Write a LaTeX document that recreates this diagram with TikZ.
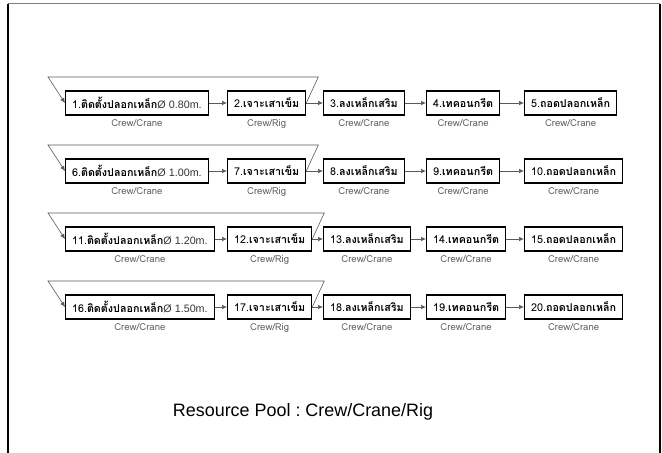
\documentclass[tikz,border=0pt]{standalone}
\usepackage{fontspec}
\setmainfont{Liberation Sans}
\newfontfamily\thaifont[Script=Thai]{Loma}
\usetikzlibrary{arrows.meta,positioning}
\definecolor{linegray}{RGB}{90,90,90}
\definecolor{resgray}{RGB}{95,95,95}
\newcommand{\dia}[1]{{\rmfamily\color{black!80}Ø #1m.}}
\frenchspacing

\begin{document}
\begin{tikzpicture}[
    x=1bp, y=-1bp,
    >=Latex,
    taskbox/.style={
        rectangle,
        draw=black,
        line width=1.1bp,
        anchor=west,
        minimum height=24bp,
        inner xsep=6.5bp,
        font=\thaifont\fontsize{10.8}{12}\selectfont
    },
    res/.style={
        text=resgray,
        inner sep=1bp,
        below=2.5bp of #1,
        font=\thaifont\fontsize{9.6}{11}\selectfont
    },
    seqarrow/.style={
        -{Latex[length=5bp,width=4.5bp]},
        draw=linegray,
        line width=0.7bp
    },
    cycleline/.style={
        -{Latex[length=5bp,width=4.5bp]},
        draw=linegray,
        line width=0.6bp
    }
]
\useasboundingbox (0,0) rectangle (662,453);
% frame
\draw[gray, line width=1bp] (8,4) -- (660,4);
\draw[line width=2bp] (8,4) -- (8,453);
\draw[line width=2bp] (660,4) -- (660,453);

% row 1
\node[taskbox] (t1) at (65,103) {1.\textbf{ติดตั้งปลอกเหล็ก}\dia{0.80}};
\node[taskbox] (t2) at (227,103) {2.\textbf{เจาะเสาเข็ม}};
\node[taskbox] (t3) at (323,103) {3.\textbf{ลงเหล็กเสริม}};
\node[taskbox] (t4) at (426,103) {4.\textbf{เทคอนกรีต}};
\node[taskbox] (t5) at (524,103) {5.\textbf{ถอดปลอกเหล็ก}};
% row 2
\node[taskbox] (t6) at (65,171) {6.\textbf{ติดตั้งปลอกเหล็ก}\dia{1.00}};
\node[taskbox] (t7) at (227,171) {7.\textbf{เจาะเสาเข็ม}};
\node[taskbox] (t8) at (323,171) {8.\textbf{ลงเหล็กเสริม}};
\node[taskbox] (t9) at (426,171) {9.\textbf{เทคอนกรีต}};
\node[taskbox] (t10) at (524,171) {10.\textbf{ถอดปลอกเหล็ก}};
% row 3
\node[taskbox] (t11) at (65,239) {11.\textbf{ติดตั้งปลอกเหล็ก}\dia{1.20}};
\node[taskbox] (t12) at (227,239) {12.\textbf{เจาะเสาเข็ม}};
\node[taskbox] (t13) at (323,239) {13.\textbf{ลงเหล็กเสริม}};
\node[taskbox] (t14) at (426,239) {14.\textbf{เทคอนกรีต}};
\node[taskbox] (t15) at (524,239) {15.\textbf{ถอดปลอกเหล็ก}};
% row 4
\node[taskbox] (t16) at (65,307) {16.\textbf{ติดตั้งปลอกเหล็ก}\dia{1.50}};
\node[taskbox] (t17) at (227,307) {17.\textbf{เจาะเสาเข็ม}};
\node[taskbox] (t18) at (323,307) {18.\textbf{ลงเหล็กเสริม}};
\node[taskbox] (t19) at (426,307) {19.\textbf{เทคอนกรีต}};
\node[taskbox] (t20) at (524,307) {20.\textbf{ถอดปลอกเหล็ก}};

% resources under each box
\foreach \i/\r in {1/Crane,2/Rig,3/Crane,4/Crane,5/Crane,
                   6/Crane,7/Rig,8/Crane,9/Crane,10/Crane,
                   11/Crane,12/Rig,13/Crane,14/Crane,15/Crane,
                   16/Crane,17/Rig,18/Crane,19/Crane,20/Crane}
    \node[res=t\i] (r\i) {Crew/\r};

% sequence arrows
\foreach \a/\b in {1/2,2/3,3/4,4/5,6/7,7/8,8/9,9/10,
                   11/12,12/13,13/14,14/15,16/17,17/18,18/19,19/20}
    \draw[seqarrow] (t\a) -- (t\b);

% repeat loops
\foreach \a/\b in {1/2,6/7,11/12,16/17}
    \draw[cycleline] (t\b.east) -- ++(12,-26)
        -- ([xshift=-17bp,yshift=26bp]t\a.west) -- (t\a.west);

\node (pool) at (303,412) {\fontsize{18}{21}\selectfont Resource Pool : Crew/Crane/Rig};
\end{tikzpicture}
\end{document}
